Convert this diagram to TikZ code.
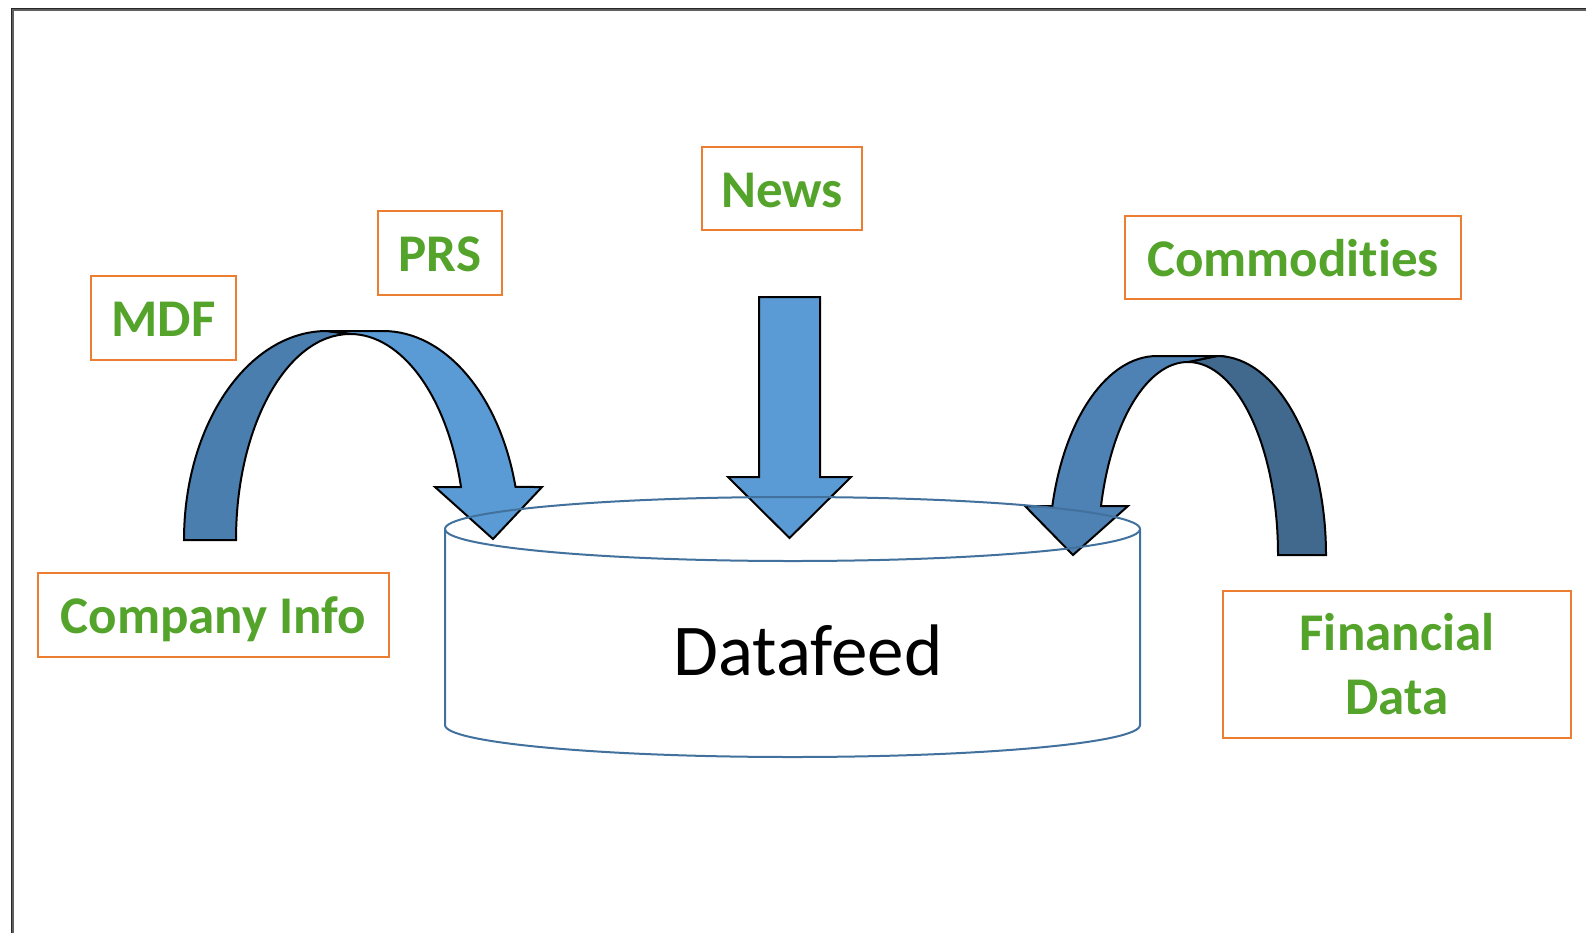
\documentclass[tikz,border=0pt]{standalone}
\usepackage{fontspec}
\setmainfont{Carlito}[Ligatures=NoCommon]
\definecolor{boxorange}{RGB}{237,125,49}
\definecolor{labelgreen}{RGB}{84,164,44}
\definecolor{arrowlight}{RGB}{91,155,213}
\definecolor{arrowdarkL}{RGB}{74,126,174}
\definecolor{arrowmid}{RGB}{79,130,180}
\definecolor{arrowdark}{RGB}{65,104,141}
\definecolor{cylblue}{RGB}{65,113,156}
\definecolor{framegray}{RGB}{95,95,95}
\tikzset{
  labelframe/.style={draw=boxorange, line width=2pt, inner sep=0pt, text=labelgreen,
    font=\fontsize{53}{64}\selectfont\bfseries, align=center},
  labelbox/.style={labelframe, text height=43pt, text depth=6pt},
  arrowline/.style={draw=black, line width=2pt},
  cylline/.style={draw=cylblue, line width=2pt}
}
\begin{document}
\begin{tikzpicture}[x=1pt,y=-1pt]
\useasboundingbox (0,0) rectangle (1586,932);
\fill[white] (0,0) rectangle (1586,932);
% frame
\draw[framegray, line width=3pt] (12,933) -- (12,9) -- (1587,9);
\draw[black!85, line width=1pt] (11,933) -- (11,8) -- (1587,8);

% labels
\node[labelbox, minimum width=145pt, minimum height=84pt] (mdf) at (163.5,318) {MDF};
\node[labelbox, minimum width=124pt, minimum height=84pt] (prs) at (440,253) {PRS};
\node[labelbox, minimum width=160pt, minimum height=83pt] (news) at (782,188.5) {News};
\node[labelbox, minimum width=336pt, minimum height=83pt] (comm) at (1293,257.5) {Commodities};
\node[labelbox, minimum width=351pt, minimum height=84pt] (comp) at (213.5,615) {Company Info};
\node[labelframe, minimum width=348pt, minimum height=147pt] (fin) at (1397,664.5) {Financial\\Data};

% News arrow
\filldraw[arrowline, fill=arrowlight] (759,297) -- (820,297) -- (820,477) -- (851,477)
  -- (789.5,538) -- (728,477) -- (759,477) -- cycle;

% left curved arrow
\filldraw[arrowline, fill=arrowdarkL] (184,540) arc[start angle=180, end angle=270, x radius=143, y radius=209]
  -- (350,334) arc[start angle=270, end angle=180, x radius=114, y radius=206] -- cycle;
\filldraw[arrowline, fill=arrowlight] (327,331) -- (383,331)
  arc[start angle=270, end angle=345.3, x radius=137, y radius=209]
  -- (542,487) -- (493,539) -- (435,487) -- (461,487)
  arc[start angle=345.1, end angle=270, x radius=115, y radius=206] -- cycle;

% right curved arrow
\filldraw[arrowline, fill=arrowdark] (1326,555) arc[start angle=360, end angle=270, x radius=109, y radius=199]
  -- (1188,362) arc[start angle=270, end angle=360, x radius=90, y radius=193] -- cycle;
\filldraw[arrowline, fill=arrowmid] (1217,356) -- (1157,356)
  arc[start angle=270, end angle=194.2, x radius=108, y radius=199]
  -- (1025,506) -- (1073,555) -- (1128,506) -- (1101,506)
  arc[start angle=194.7, end angle=270, x radius=90, y radius=193] -- cycle;

% cylinder
\draw[cylline] (445,529) -- (445,725) arc[start angle=180, end angle=0, x radius=347.5, y radius=32] -- (1140,529);
\draw[cylline] (792.5,529) ellipse[x radius=347.5, y radius=32];
\node[font=\fontsize{73}{88}\selectfont, text=black] (datafeed) at (808,650) {Datafeed};
\end{tikzpicture}
\end{document}
